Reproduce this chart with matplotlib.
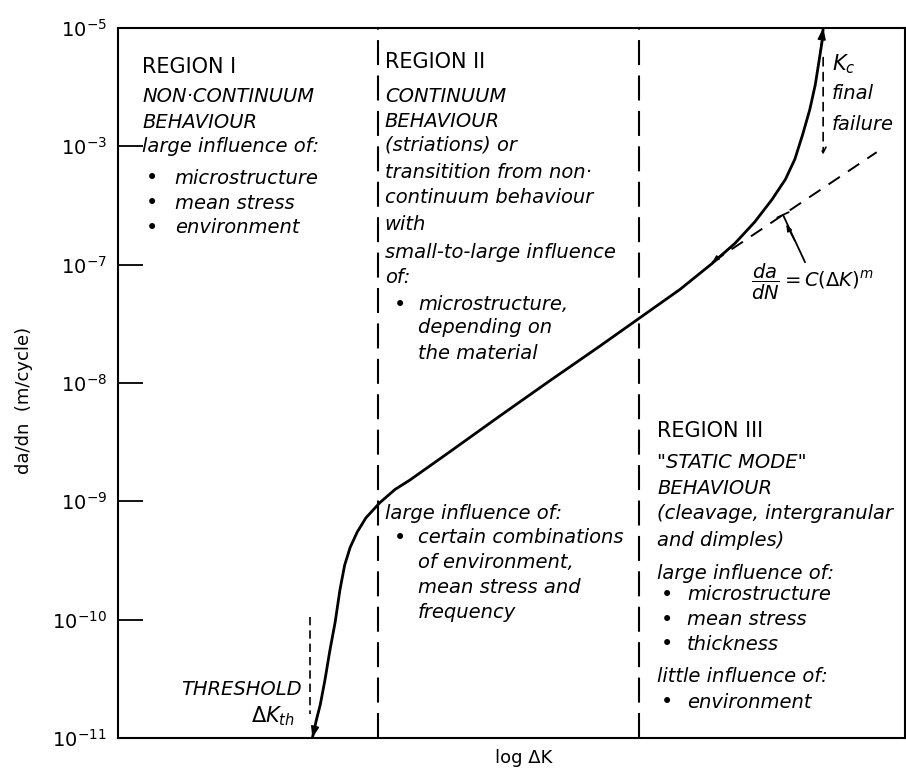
import matplotlib.pyplot as plt

# y axis: one tick per decade (the "10^-3" label is printed that way in the original)
tick_pos = [-11, -10, -9, -8, -7, -6, -5]
tick_labels = [r'$10^{-11}$', r'$10^{-10}$', r'$10^{-9}$', r'$10^{-8}$',
               r'$10^{-7}$', r'$10^{-3}$', r'$10^{-5}$']

# crack growth curve, x = log dK (arbitrary units), y = log10(da/dN)
curve_x = [2.47, 2.52, 2.57, 2.63, 2.69, 2.76, 2.82, 2.88, 2.95, 3.04, 3.15,
           3.33, 3.52, 3.71, 4.22, 4.85, 5.49, 6.12, 6.63, 7.14, 7.55, 7.84,
           8.09, 8.31, 8.48, 8.60, 8.70, 8.79, 8.86, 8.91, 8.95, 8.96]
curve_y = [-11.00, -10.85, -10.72, -10.51, -10.27, -10.02, -9.75, -9.54, -9.39,
           -9.26, -9.14, -9.01, -8.90, -8.82, -8.58, -8.28, -7.98, -7.69, -7.45,
           -7.21, -6.99, -6.82, -6.64, -6.45, -6.28, -6.11, -5.90, -5.69, -5.48,
           -5.27, -5.10, -5.00]

# Paris law extension (dashed)
paris_x = [7.55, 9.64]
paris_y = [-6.98, -6.05]

region_bounds = [3.30, 6.62]
dk_th = 2.44
k_c = 8.96

region1 = [('REGION I', -5.33, 'head'), ('NON·CONTINUUM', -5.58, 'it'),
           ('BEHAVIOUR', -5.80, 'it'), ('large influence of:', -6.00, 'it'),
           ('microstructure', -6.27, 'bul'), ('mean stress', -6.48, 'bul'),
           ('environment', -6.69, 'bul')]
region2 = [('REGION II', -5.29, 'head'), ('CONTINUUM', -5.58, 'it'),
           ('BEHAVIOUR', -5.79, 'it'), ('(striations) or', -5.99, 'it'),
           ('transitition from non·', -6.22, 'it'), ('continuum behaviour', -6.43, 'it'),
           ('with', -6.66, 'it'), ('small-to-large influence', -6.90, 'it'),
           ('of:', -7.11, 'it'), ('microstructure,', -7.34, 'bul'),
           ('depending on', -7.53, 'ind'), ('the material', -7.75, 'ind'),
           ('large influence of:', -9.10, 'it'), ('certain combinations', -9.31, 'bul'),
           ('of environment,', -9.52, 'ind'), ('mean stress and', -9.73, 'ind'),
           ('frequency', -9.94, 'ind')]
region3 = [('REGION III', -8.41, 'head'), ('"STATIC MODE"', -8.67, 'it'),
           ('BEHAVIOUR', -8.89, 'it'), ('(cleavage, intergranular', -9.10, 'it'),
           ('and dimples)', -9.33, 'it'), ('large influence of:', -9.61, 'it'),
           ('microstructure', -9.79, 'bul'), ('mean stress', -10.00, 'bul'),
           ('thickness', -10.21, 'bul'), ('little influence of:', -10.48, 'it'),
           ('environment', -10.70, 'bul')]

fig = plt.figure(figsize=(9.06, 7.76), dpi=100)
ax = fig.add_axes([0.1302, 0.049, 0.8687, 0.915])
ax.set_xlim(0, 10)
ax.set_ylim(-11, -5)

ax.plot(curve_x, curve_y, color='black', lw=2.0)
# arrow heads at both ends of the curve
head = dict(arrowstyle='-|>,head_length=0.7,head_width=0.25', color='black',
            lw=1, shrinkA=0, shrinkB=0)
ax.annotate('', xy=(curve_x[0], curve_y[0]), xytext=(curve_x[2], curve_y[2]), arrowprops=head)
ax.annotate('', xy=(curve_x[-1], curve_y[-1]), xytext=(curve_x[-3], curve_y[-3]), arrowprops=head)
small = dict(arrowstyle='-|>,head_length=0.4,head_width=0.15', color='black',
             lw=1, shrinkA=0, shrinkB=0)
ax.annotate('', xy=(paris_x[0], paris_y[0]), xytext=(curve_x[21], curve_y[21]), arrowprops=small)

ax.plot(paris_x, paris_y, color='black', lw=1.4, dashes=(7, 5))

for xb in region_bounds:
    ax.axvline(xb, color='black', lw=1.5, dashes=(12, 5))

# threshold and Kc markers
ax.plot([dk_th, dk_th], [-9.98, -10.8], color='black', lw=1.2, dashes=(5, 3))
ax.annotate('', xy=(k_c, -6.07), xytext=(k_c, -5.25),
            arrowprops=dict(arrowstyle='->', color='black', lw=1.2,
                            linestyle=(0, (5, 4)), shrinkA=0, shrinkB=0))

# leader from the equation to the dashed Paris line
t_x = 8.45
t_y = paris_y[0] + (t_x - paris_x[0]) * (paris_y[1] - paris_y[0]) / (paris_x[1] - paris_x[0])
ax.annotate('', xy=(t_x, t_y), xytext=(8.73, -6.98),
            arrowprops=dict(arrowstyle='-[,widthB=0.45,lengthB=0', color='black',
                            lw=1.3, shrinkA=0, shrinkB=0))
ax.annotate('', xy=(t_x + 0.04, t_y - 0.08), xytext=(8.60, -6.80), arrowprops=small)


def draw_block(lines, x0, xb, xi):
    for txt, y, kind in lines:
        if kind == 'head':
            ax.text(x0, y, txt, fontsize=15, va='center')
        elif kind == 'it':
            ax.text(x0, y, txt, fontsize=14, style='italic', va='center')
        elif kind == 'bul':
            ax.text(xb, y, '•', fontsize=15, va='center')
            ax.text(xi, y, txt, fontsize=14, style='italic', va='center')
        else:
            ax.text(xi, y, txt, fontsize=14, style='italic', va='center')


draw_block(region1, 0.31, 0.36, 0.72)
draw_block(region2, 3.39, 3.50, 3.81)
draw_block(region3, 6.85, 6.90, 7.23)

ax.text(9.07, -5.31, r'$K_c$', fontsize=15, va='center')
ax.text(9.07, -5.55, 'final', fontsize=14, style='italic', va='center')
ax.text(9.07, -5.82, 'failure', fontsize=14, style='italic', va='center')
ax.text(8.82, -7.15, r'$\dfrac{da}{dN} = C(\Delta K)^m$', fontsize=14, ha='center', va='center')
ax.text(2.34, -10.59, 'THRESHOLD', fontsize=14, style='italic', ha='right', va='center')
ax.text(2.25, -10.82, r'$\Delta K_{th}$', fontsize=15, ha='right', va='center')

ax.set_xticks([])
ax.set_yticks(tick_pos, tick_labels, fontsize=14)
ax.tick_params(axis='y', direction='in', length=18, width=1.3, pad=8)
for s in ax.spines.values():
    s.set_linewidth(1.5)

ax.set_ylabel('da/dn  (m/cycle)', fontsize=13)
ax.yaxis.set_label_coords(-0.108, 0.476)
ax.set_xlabel('log ΔK', fontsize=13)
ax.xaxis.set_label_coords(0.515, -0.016)

fig.savefig('out.png', dpi=100)
